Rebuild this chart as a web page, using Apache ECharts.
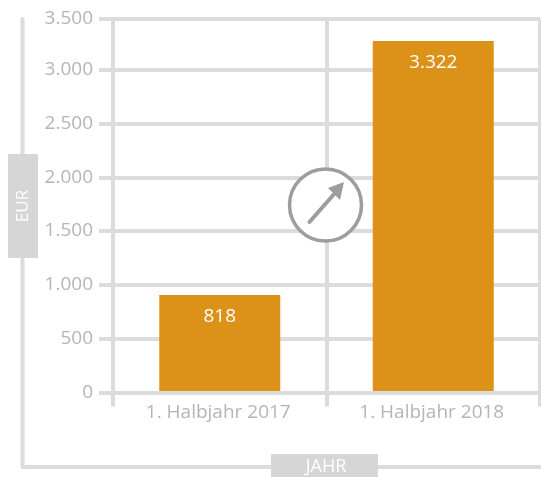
<!DOCTYPE html>
<html>
<head>
<meta charset="utf-8">
<style>html,body{margin:0;padding:0;background:#fff}#c{width:541px;height:477px}</style>
<script src="https://cdn.jsdelivr.net/npm/echarts@6/dist/echarts.min.js"></script>
</head>
<body>
<div id="c"></div>
<script>
const categories = ['1. Halbjahr 2017', '1. Halbjahr 2018'];
const barValues = [906, 3267];
const barLabels = ['818', '3.322'];
const yTickLabels = ['0', '500', '1.000', '1.500', '2.000', '2.500', '3.000', '3.500'];
const yMin = 0, yMax = 3471, yStep = 500;
const yName = 'EUR', xName = 'JAHR';

const FONT = '"Open Sans", sans-serif';
const LINE = '#dcdcdc', TEXT = '#b5b5b5', BAR = '#dc9119', ICON = '#9d9d9d';
const chart = echarts.init(document.getElementById('c'), null, {renderer: 'canvas'});
const axisLine = {lineStyle: {color: LINE, width: 4}};
chart.setOption({
  animation: false,
  grid: {left: 113, right: 1, top: 19, bottom: 84.5, containLabel: false},
  xAxis: {
    type: 'category', data: categories, z: 3,
    axisLine: {show: true, ...axisLine},
    axisTick: {show: true, alignWithLabel: false, length: 14, ...axisLine},
    axisLabel: {color: TEXT, fontFamily: FONT, fontSize: 19, margin: 11, padding: [0, 3, 0, 0]},
    splitLine: {show: true, ...axisLine}
  },
  yAxis: {
    type: 'value', min: yMin, max: yMax, interval: yStep,
    axisLine: {show: false},
    axisTick: {show: true, length: 14, ...axisLine},
    axisLabel: {
      color: TEXT, fontFamily: FONT, fontSize: 19, margin: 20,
      showMaxLabel: true,
      formatter: (v, i) => yTickLabels[i]
    },
    splitLine: {show: true, ...axisLine}
  },
  series: [{
    type: 'bar', data: barValues, barWidth: 121,
    itemStyle: {color: BAR},
    label: {
      show: true, position: 'insideTop', distance: 12,
      color: '#fff', fontFamily: FONT, fontSize: 19,
      formatter: p => barLabels[p.dataIndex]
    }
  }],
  graphic: [
    {type: 'polyline', z: 0, shape: {points: [[22.5, 19], [22.5, 467], [540, 467]]},
      style: {stroke: LINE, lineWidth: 4, fill: null, lineJoin: 'round', lineCap: 'round'}},
    {type: 'rect', z: 5, shape: {x: 8, y: 154, width: 30, height: 104}, style: {fill: '#d6d6d6'}},
    {type: 'text', z: 6, x: 23, y: 206, rotation: Math.PI / 2,
      style: {text: yName, fill: '#fff', font: '17px ' + FONT, align: 'center', verticalAlign: 'middle'}},
    {type: 'rect', z: 5, shape: {x: 271, y: 454, width: 107, height: 23}, style: {fill: '#d6d6d6'}},
    {type: 'text', z: 6, x: 326, y: 467,
      style: {text: xName, fill: '#fff', font: '18px ' + FONT, align: 'center', verticalAlign: 'middle'}},
    {type: 'circle', z: 10, shape: {cx: 325.5, cy: 205, r: 36},
      style: {fill: '#fff', stroke: ICON, lineWidth: 3.5}},
    {type: 'line', z: 11, shape: {x1: 309.5, y1: 222, x2: 335, y2: 193},
      style: {stroke: ICON, lineWidth: 4, lineCap: 'round'}},
    {type: 'polygon', z: 11, shape: {points: [[344, 182], [340, 200], [328, 188]]},
      style: {fill: ICON}}
  ]
});
</script>
</body>
</html>
